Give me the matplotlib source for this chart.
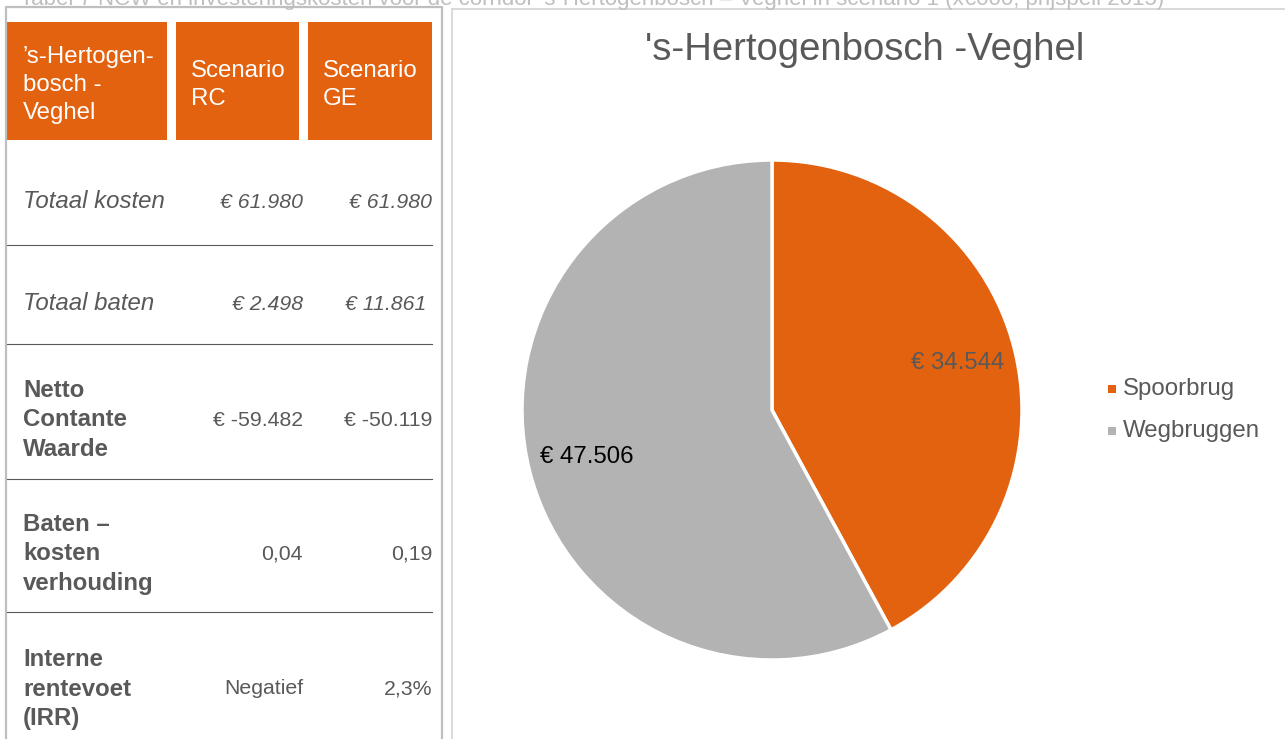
import matplotlib
matplotlib.use("Agg")
import matplotlib.pyplot as plt
from matplotlib.patches import Rectangle

plt.rcParams['font.family'] = ['Liberation Sans', 'DejaVu Sans']

# data
caption = "Tabel 7 NCW en investeringskosten voor de corridor 's-Hertogenbosch \u2013 Veghel in scenario 1 (x\u20ac000, prijspeil 2015)"
headers = ["\u2019s-Hertogen-\nbosch -\nVeghel", "Scenario\nRC", "Scenario\nGE"]
row_labels = ["Totaal kosten", "Totaal baten", "Netto\nContante\nWaarde",
              "Baten \u2013\nkosten\nverhouding", "Interne\nrentevoet\n(IRR)"]
values_rc = ["\u20ac 61.980", "\u20ac 2.498", "\u20ac -59.482", "0,04", "Negatief"]
values_ge = ["\u20ac 61.980", "\u20ac 11.861 ", "\u20ac -50.119", "0,19", "2,3%"]

pie_title = "'s-Hertogenbosch -Veghel"
pie_names = ["Spoorbrug", "Wegbruggen"]
pie_values = [34544, 47506]

orange = '#E36210'
grey = '#B3B3B3'
txt = '#595959'
fs = 17.3

W, H = 1285, 739
fig = plt.figure(figsize=(W / 100, H / 100), dpi=100)
bg = fig.add_axes([0, 0, 1, 1])
bg.set_xlim(0, W)
bg.set_ylim(H, 0)
bg.axis('off')

# caption, cut off at the top like in the source page
bg.text(20, 5, caption, fontsize=16, color='#BFBFBF', va='baseline', ha='left')

# table frame and chart frame
bg.plot([6, 6, 442, 442], [H, 7, 7, H], color='#BFBFBF', lw=1.6)
bg.plot([452, 452], [H, 9], color='#D9D9D9', lw=1.4)
bg.plot([452, W], [9, 9], color='#D9D9D9', lw=1.4)

# header cells
col_x = [(7, 167), (176, 299), (308, 432)]
text_x = [23, 191, 323]
for (x0, x1), tx, h in zip(col_x, text_x, headers):
    bg.add_patch(Rectangle((x0, 22), x1 - x0, 118, color=orange, lw=0))
    bg.text(tx, 85, h, color='white', fontsize=fs, va='center', ha='left', linespacing=1.38)

# rows
row_y = [202, 304, 420, 554, 689]
sep_y = [245, 344, 479, 612]
for y in sep_y:
    bg.plot([7, 432], [y, y], color=txt, lw=0.8)

for i, (lab, rc, ge, y) in enumerate(zip(row_labels, values_rc, values_ge, row_y)):
    style = 'italic' if i < 2 else 'normal'
    weight = 'normal' if i < 2 else 'bold'
    bg.text(23, y, lab, fontsize=fs, color=txt, style=style,
            weight=weight, va='center', ha='left', linespacing=1.35)
    bg.text(303, y, rc, fontsize=15.3, color=txt, style=style, va='center', ha='right')
    bg.text(432, y, ge, fontsize=15.3, color=txt, style=style, va='center', ha='right')

# pie chart
cx, cy, r = 772, 410, 250
pax = fig.add_axes([(cx - r) / W, (H - cy - r) / H, 2 * r / W, 2 * r / H])
val_labels = ["\u20ac " + f"{v:,}".replace(",", ".") for v in pie_values]
wedges, texts = pax.pie(pie_values, colors=[orange, grey], startangle=90, counterclock=False,
                        labels=val_labels, labeldistance=0.765,
                        wedgeprops=dict(edgecolor='white', linewidth=2.5),
                        textprops=dict(fontsize=fs))
for t in texts:
    t.set_ha('center')
    t.set_va('center')
texts[0].set_color(txt)
texts[1].set_color('black')
pax.set_xlim(-1, 1)
pax.set_ylim(-1, 1)
pax.set_aspect('equal')

bg.text(865, 50, pie_title, fontsize=27.5, color=txt, ha='center', va='center')

# legend
leg_y = [389, 431]
for name, col, y in zip(pie_names, [orange, grey], leg_y):
    bg.add_patch(Rectangle((1108, y - 4), 8, 8, color=col, lw=0))
    bg.text(1123, y, name, fontsize=fs, color=txt, ha='left', va='center')

fig.savefig('out.png', dpi=100)
